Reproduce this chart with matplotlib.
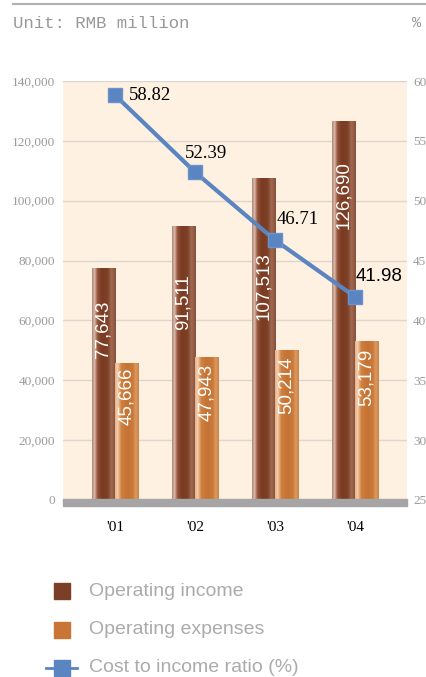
import numpy as np
import matplotlib
matplotlib.use("Agg")
from matplotlib import pyplot as plt
from matplotlib.colors import LinearSegmentedColormap
from matplotlib.patches import Rectangle
from matplotlib.lines import Line2D
from matplotlib.ticker import FuncFormatter

years = ["'01", "'02", "'03", "'04"]
operating_income = [77643, 91511, 107513, 126690]
operating_expenses = [45666, 47943, 50214, 53179]
cost_income_ratio = [58.82, 52.39, 46.71, 41.98]

# where the white labels sit inside the bars (centre, in RMB million)
income_label_y = [57100, 66200, 71500, 101900]
expense_label_y = [34750, 36100, 38400, 41100]
# ratio label offsets in pixels from the marker
ratio_offsets = [(14, 0), (-10, 19), (2, 21), (1, 20)]

income_col = '#7b3f27'
expense_col = '#c87535'
line_col = '#5b85c1'
cream = '#fef1e1'

plt.rcParams['font.family'] = ['Liberation Serif', 'DejaVu Serif']

W, H = 427, 677
fig = plt.figure(figsize=(W / 100, H / 100), dpi=100)

def fx(px):
    return px / W

def fy(py):
    return 1 - py / H

ax1 = fig.add_axes([fx(63), fy(500), fx(407) - fx(63), fy(81) - fy(500)])
ax1.set_facecolor(cream)
ax2 = ax1.twinx()

x = np.arange(len(years))
bw = 0.29

income_cmap = LinearSegmentedColormap.from_list('inc', [
    (0.0, '#b08676'), (0.1, '#dcbcae'), (0.22, '#94563c'), (0.4, '#7a3b21'),
    (0.65, '#7d4027'), (0.82, '#a06a52'), (1.0, '#8a4f37')])
expense_cmap = LinearSegmentedColormap.from_list('exp', [
    (0.0, '#e2b08a'), (0.1, '#f6d2ad'), (0.25, '#d08142'), (0.5, '#c67333'),
    (0.75, '#c97a3b'), (0.88, '#dd9a62'), (1.0, '#cc8046')])
grad = np.linspace(0, 1, 64).reshape(1, -1)

bars_inc = ax1.bar(x - bw / 2, operating_income, width=bw, color='none', zorder=2)
bars_exp = ax1.bar(x + bw / 2, operating_expenses, width=bw, color='none', zorder=2)

for bars, cmap in [(bars_inc, income_cmap), (bars_exp, expense_cmap)]:
    for b in bars:
        x0, w, h = b.get_x(), b.get_width(), b.get_height()
        im = ax1.imshow(grad, cmap=cmap, aspect='auto', extent=(x0, x0 + w, 0, h),
                        zorder=2, interpolation='bilinear')
        im.set_clip_path(b)

for i in range(len(years)):
    ax1.text(x[i] - bw / 2, income_label_y[i], f"{operating_income[i]:,}", rotation=90,
             ha='center', va='center', color='white', fontsize=13.5,
             family=['Liberation Sans', 'DejaVu Sans'], zorder=4)
    ax1.text(x[i] + bw / 2, expense_label_y[i], f"{operating_expenses[i]:,}", rotation=90,
             ha='center', va='center', color='white', fontsize=13.5,
             family=['Liberation Sans', 'DejaVu Sans'], zorder=4)

ax1.set_xlim(-0.65, 3.65)
ax1.set_ylim(0, 140000)
ax1.set_yticks(np.arange(0, 140001, 20000))
ax1.yaxis.set_major_formatter(FuncFormatter(lambda v, p: f"{int(v):,}"))
ax1.set_xticks(x, years)
ax1.grid(axis='y', color='#ded6ce', lw=1)
ax1.set_axisbelow(True)
ax1.tick_params(axis='y', length=0, pad=5.8, labelsize=9.5, labelcolor='#9a9a9a')
ax1.tick_params(axis='x', length=0, pad=15, labelsize=11, labelcolor='black')
for s in ax1.spines.values():
    s.set_visible(False)

# grey floor under the bars
ax1.add_patch(Rectangle((0, -6 / 419), 1, 7 / 419, transform=ax1.transAxes,
                        color='#a5a5a5', clip_on=False, zorder=5))

ax2.plot(x, cost_income_ratio, color=line_col, lw=3.0, marker='s', ms=10.5,
         mfc=line_col, mec='#6a92cc', zorder=6)
ax2.set_ylim(25, 60)
ax2.set_yticks(np.arange(25, 61, 5))
ax2.tick_params(axis='y', length=0, pad=4.5, labelsize=9.5, labelcolor='#9a9a9a')
for s in ax2.spines.values():
    s.set_visible(False)

for i, v in enumerate(cost_income_ratio):
    dx, dy = ratio_offsets[i]
    fam = ['Liberation Sans', 'DejaVu Sans'] if i == 3 else ['Liberation Serif', 'DejaVu Serif']
    ax2.annotate(f"{v:.2f}", (x[i], v), xytext=(dx * 0.72, dy * 0.72),
                 textcoords='offset points', ha='left', va='center',
                 fontsize=13.5, family=fam, color='black', zorder=7)

# header
fig.add_artist(Line2D([fx(13), 1], [fy(4), fy(4)], color='#b0b0b0', lw=1.5))
fig.text(fx(13), fy(23), "Unit: RMB million", ha='left', va='center',
         family=['Liberation Mono', 'DejaVu Sans Mono'], fontsize=12.5, color='#999999')
fig.text(fx(421), fy(23), "%", ha='right', va='center',
         family=['Liberation Mono', 'DejaVu Sans Mono'], fontsize=11, color='#999999')

# legend
legend_names = ["Operating income", "Operating expenses", "Cost to income ratio (%)"]
legend_y = [591, 630, 668]
fig.add_artist(Rectangle((fx(54), fy(599)), fx(16), fy(583) - fy(599), color=income_col))
fig.add_artist(Rectangle((fx(54), fy(638)), fx(16), fy(622) - fy(638), color=expense_col))
fig.add_artist(Line2D([fx(46), fx(77)], [fy(668), fy(668)], color=line_col, lw=2))
fig.add_artist(Line2D([fx(62)], [fy(668)], color=line_col, marker='s', ms=11.5, mec=line_col))
for name, yy in zip(legend_names, legend_y):
    fig.text(fx(89), fy(yy), name, ha='left', va='center', fontsize=14,
             family=['Liberation Sans', 'DejaVu Sans'], color='#ababab')

fig.savefig('out.png', dpi=100)
